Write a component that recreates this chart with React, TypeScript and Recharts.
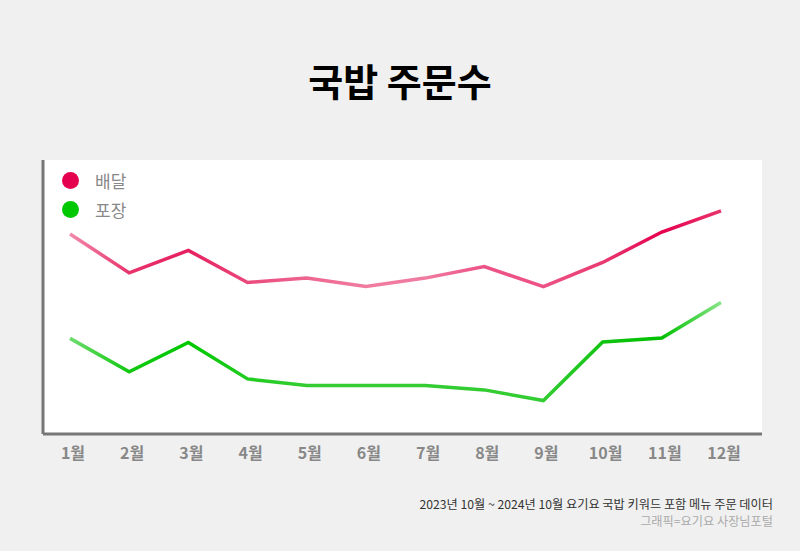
import { CartesianGrid, Line, LineChart, XAxis, YAxis } from "recharts";

const months = ["1월", "2월", "3월", "4월", "5월", "6월", "7월", "8월", "9월", "10월", "11월", "12월"];
const delivery = [73.0, 58.8, 67.0, 55.3, 56.9, 53.8, 56.9, 61.1, 53.8, 62.6, 73.7, 81.4];
const takeout = [34.9, 22.7, 33.4, 20.1, 17.7, 17.7, 17.7, 16.1, 12.2, 33.6, 35.0, 48.0];

const seriesNames = ["배달", "포장"];
const seriesColors = ["#e5004f", "#00c800"];

// stroke shades along each line, one per month
const deliveryShades = ["#f28aab", "#e8336c", "#e61f5f", "#ea4a7d", "#ee6590", "#f07ca0", "#f07aa0", "#ec5285", "#ec5285", "#e83a70", "#e6004f", "#e8356b"];
const takeoutShades = ["#6edc6e", "#10c810", "#00c800", "#22cc22", "#33cc33", "#33cc33", "#33cc33", "#33cc33", "#33cc33", "#12c412", "#00c000", "#88e488"];

const data = months.map((month, i) => ({
  month,
  delivery: delivery[i],
  takeout: takeout[i],
}));

const font = '"Noto Sans CJK KR", "Noto Sans", sans-serif';

function LegendBox() {
  return (
    <div style={{ position: "absolute", left: 62, top: 166, fontFamily: font }}>
      {seriesNames.map((name, i) => (
        <div key={name} style={{ display: "flex", alignItems: "center", height: 29 }}>
          <span
            style={{
              width: 17,
              height: 17,
              borderRadius: "50%",
              background: seriesColors[i],
              display: "inline-block",
            }}
          />
          <span style={{ marginLeft: 16, fontSize: 17, color: "#888" }}>{name}</span>
        </div>
      ))}
    </div>
  );
}

function gradient(id: string, shades: string[]) {
  return (
    <linearGradient id={id} x1="0" y1="0" x2="1" y2="0">
      {shades.map((c, i) => (
        <stop key={i} offset={`${(i / (shades.length - 1)) * 100}%`} stopColor={c} />
      ))}
    </linearGradient>
  );
}

export default function App() {
  return (
    <div
      style={{
        position: "absolute",
        left: 0,
        top: 0,
        width: 800,
        height: 551,
        background: "#f0f0f0",
        fontFamily: font,
      }}
    >
      <div
        style={{
          position: "absolute",
          top: 54,
          width: 800,
          textAlign: "center",
          fontSize: 38,
          fontWeight: 700,
          color: "#000",
          lineHeight: "52px",
        }}
      >
        국밥 주문수
      </div>

      <LineChart
        width={800}
        height={551}
        data={data}
        margin={{ top: 160, right: 38, bottom: 87, left: 42 }}
      >
        <defs>
          {gradient("deliveryGrad", deliveryShades)}
          {gradient("takeoutGrad", takeoutShades)}
        </defs>
        <CartesianGrid fill="#ffffff" horizontal={false} vertical={false} />
        <XAxis
          dataKey="month"
          height={30}
          padding={{ left: 27, right: 41 }}
          axisLine={{ stroke: "#777", strokeWidth: 3 }}
          tickLine={false}
          tick={{ fill: "#888", fontSize: 16, fontWeight: 700, fontFamily: font }}
          dy={6}
          dx={3}
          interval={0}
        />
        <YAxis
          width={1}
          domain={[0, 100]}
          tick={false}
          tickLine={false}
          axisLine={{ stroke: "#777", strokeWidth: 3 }}
        />
        <Line
          dataKey="delivery"
          name="배달"
          stroke="url(#deliveryGrad)"
          strokeWidth={3.5}
          dot={false}
          type="linear"
          isAnimationActive={false}
        />
        <Line
          dataKey="takeout"
          name="포장"
          stroke="url(#takeoutGrad)"
          strokeWidth={3.5}
          dot={false}
          type="linear"
          isAnimationActive={false}
        />
      </LineChart>

      <LegendBox />

      <div
        style={{
          position: "absolute",
          right: 27,
          top: 496,
          textAlign: "right",
          fontSize: 12.2,
          lineHeight: "17px",
        }}
      >
        <div style={{ color: "#333" }}>2023년 10월 ~ 2024년 10월 요기요 국밥 키워드 포함 메뉴 주문 데이터</div>
        <div style={{ color: "#aaa" }}>그래픽=요기요 사장님포털</div>
      </div>
    </div>
  );
}
